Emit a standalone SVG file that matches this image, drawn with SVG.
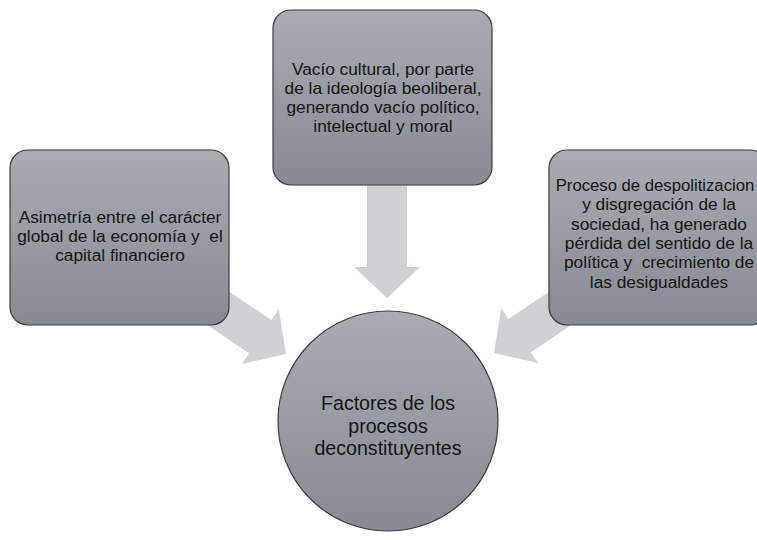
<svg xmlns="http://www.w3.org/2000/svg" width="757" height="540" viewBox="0 0 757 540">
<defs>
<linearGradient id="gBox" x1="0" y1="0" x2="0" y2="1">
<stop offset="0" stop-color="#a9acb3"/>
<stop offset="1" stop-color="#878a92"/>
</linearGradient>
<polygon id="arrowShape" points="-125,-20 -31,-20 -31,-33 0,0 -31,33 -31,20 -125,20"/>
</defs>
<style>
.box{fill:url(#gBox);stroke:#3c3c3c;stroke-width:1.2}
.arrow{fill:#d0d1d5}
.t{font-family:"Liberation Sans",Arial,sans-serif;font-size:17.3px;fill:#151515;text-anchor:middle;white-space:pre}
.tc{font-family:"Liberation Sans",Arial,sans-serif;font-size:19.6px;fill:#151515;text-anchor:middle}
</style>
<rect width="757" height="540" fill="#ffffff"/>
<g id="connectors">
<use href="#arrowShape" class="arrow" transform="translate(387,298) rotate(90)"/>
<use href="#arrowShape" class="arrow" transform="translate(286,354) rotate(34)"/>
<use href="#arrowShape" class="arrow" transform="translate(494,353) rotate(146)"/>
</g>
<g id="node-top">
<rect class="box" x="273" y="10" width="219" height="175" rx="18"/>
<text class="t" x="383" y="75">Vacío cultural, por parte</text>
<text class="t" x="383" y="94">de la ideología beoliberal,</text>
<text class="t" x="383" y="113">generando vacío político,</text>
<text class="t" x="383" y="132">intelectual y moral</text>
</g>
<g id="node-left">
<rect class="box" x="10" y="150" width="219" height="175" rx="18"/>
<text class="t" x="120" y="223">Asimetría entre el carácter</text>
<text class="t" x="120" y="242" xml:space="preserve">global de la economía y  el</text>
<text class="t" x="120" y="261">capital financiero</text>
</g>
<g id="node-right">
<rect class="box" x="549" y="150" width="219" height="175" rx="18"/>
<text class="t" x="655" y="191" style="font-size:16.7px">Proceso de despolitizacion</text>
<text class="t" x="659" y="210">y disgregación de la</text>
<text class="t" x="659" y="230">sociedad, ha generado</text>
<text class="t" x="659" y="249">pérdida del sentido de la</text>
<text class="t" x="659" y="268" xml:space="preserve">política y  crecimiento de</text>
<text class="t" x="659" y="288">las desigualdades</text>
</g>
<g id="node-center">
<circle class="box" cx="388" cy="421" r="110"/>
<text class="tc" x="388" y="410">Factores de los</text>
<text class="tc" x="388" y="433">procesos</text>
<text class="tc" x="388" y="455">deconstituyentes</text>
</g>
</svg>
